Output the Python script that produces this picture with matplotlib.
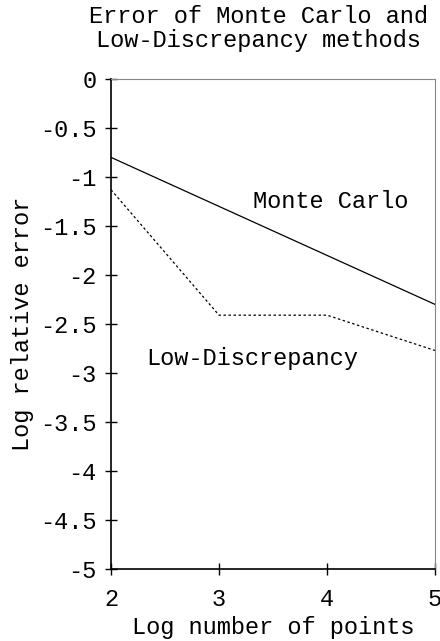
import matplotlib.pyplot as plt
import numpy as np

log_points = [2, 3, 4, 5]
monte_carlo = [-0.8, -1.3, -1.8, -2.3]
low_discrepancy = [-1.13, -2.41, -2.41, -2.77]
y_ticks = np.arange(-5, 0.01, 0.5)
y_labels = ["-5", "-4.5", "-4", "-3.5", "-3", "-2.5", "-2", "-1.5", "-1", "-0.5", "0"]

plt.rcParams["font.family"] = ["Liberation Mono", "DejaVu Sans Mono"]
plt.rcParams["font.size"] = 17

fig = plt.figure(figsize=(4.4, 6.41), dpi=100)
ax = fig.add_axes([0.2523, 0.1123, 0.7363, 0.7645])

ax.plot(log_points, monte_carlo, color="black", lw=0.9)
ax.plot(log_points, low_discrepancy, color="black", lw=0.9, linestyle=(0, (2, 2)))

ax.text(4.03, -1.25, "Monte Carlo", ha="center", va="center")
ax.text(3.31, -2.85, "Low-Discrepancy", ha="center", va="center")

ax.set_xlim(2, 5)
ax.set_ylim(-5, 0)
ax.set_xticks(log_points)
ax.set_yticks(y_ticks)
ax.set_yticklabels(y_labels)
ax.tick_params(direction="inout", length=9, width=1, pad=6)
ax.tick_params(axis="x", pad=9)
ax.spines["left"].set_linewidth(1.2)
ax.spines["bottom"].set_linewidth(1.2)
for s in ["top", "right"]:
    ax.spines[s].set_color("#888888")
    ax.spines[s].set_linewidth(0.8)

ax.set_xlabel("Log number of points", labelpad=4)
ax.set_ylabel("Log relative error")
fig.suptitle("Error of Monte Carlo and\nLow-Discrepancy methods", x=0.587, y=0.992,
             va="top", fontsize=17, linespacing=1.05)

plt.savefig("out.png")
